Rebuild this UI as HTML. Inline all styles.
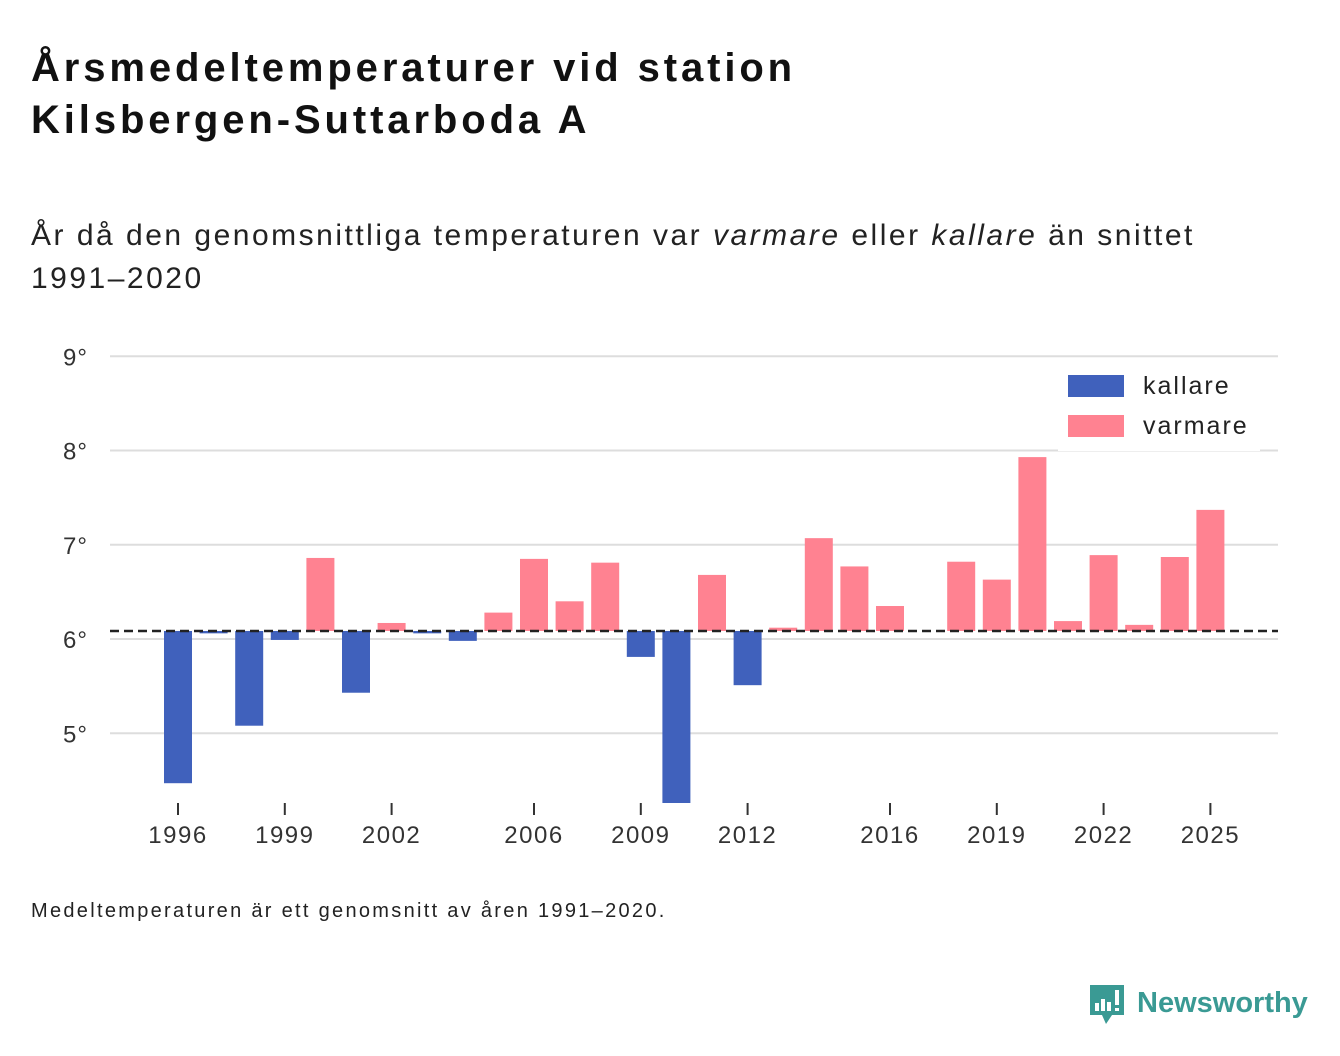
<!DOCTYPE html>
<html><head><meta charset="utf-8">
<style>
body{margin:0;background:#fff;width:1340px;height:1056px;overflow:hidden;font-family:"Liberation Sans",sans-serif;color:#111}
.title{position:absolute;left:31px;top:42px;font-size:40px;font-weight:bold;line-height:52px;letter-spacing:3.9px}
.sub{position:absolute;left:31px;top:214px;font-size:30px;line-height:43px;color:#222;letter-spacing:2.5px}
.foot{position:absolute;left:31px;top:900px;font-size:20px;color:#222;letter-spacing:2.3px}
svg{position:absolute;left:0;top:0}
</style></head><body>
<div class="title">Årsmedeltemperaturer vid station<br>Kilsbergen-Suttarboda A</div>
<div class="sub">År då den genomsnittliga temperaturen var <i>varmare</i> eller <i>kallare</i> än snittet<br>1991–2020</div>
<div class="foot">Medeltemperaturen är ett genomsnitt av åren 1991–2020.</div>
<svg id="chart" width="1340" height="1056"></svg>
<script>
const years=[1996,1997,1998,1999,2000,2001,2002,2003,2004,2005,2006,2007,2008,2009,2010,2011,2012,2013,2014,2015,2016,2017,2018,2019,2020,2021,2022,2023,2024,2025];
const temps=[4.47,6.06,5.08,5.99,6.86,5.43,6.17,6.06,5.98,6.28,6.85,6.40,6.81,5.81,4.26,6.68,5.51,6.12,7.07,6.77,6.35,null,6.82,6.63,7.93,6.19,6.89,6.15,6.87,7.37];
const mean=6.085;
const yTicks=[5,6,7,8,9];
const xTicks=[1996,1999,2002,2006,2009,2012,2016,2019,2022,2025];
const NS="http://www.w3.org/2000/svg";
const svg=document.getElementById('chart');
const y=v=>639-(v-6)*94.25;
const x=yr=>178+(yr-1996)*35.6;
function mk(t,a){const e=document.createElementNS(NS,t);for(const k in a)e.setAttribute(k,a[k]);svg.appendChild(e);return e;}
yTicks.forEach(v=>{
  const l=mk('line',{x1:110,x2:1278,y1:y(v),y2:y(v),stroke:'#ddd','stroke-width':2});
  
  
  const t=mk('text',{x:88,y:y(v)+9,'text-anchor':'end','font-size':24,fill:'#333','font-family':'Liberation Sans','letter-spacing':1});
  t.textContent=v+'°';
  
  
});
years.forEach((yr,i)=>{
  const v=temps[i]; if(v==null)return;
  const top=Math.min(y(v),y(mean)),h=Math.abs(y(v)-y(mean));
  const r=mk('rect',{x:x(yr)-14,y:top,width:28,height:Math.max(h,1.5),fill:v<mean?'#4061bc':'#ff8291'});
  
  
});
const ml=mk('line',{x1:110,x2:1278,y1:y(mean),y2:y(mean),stroke:'#222','stroke-width':2.5,'stroke-dasharray':'9,5'});


xTicks.forEach(yr=>{
  const l=mk('line',{x1:x(yr),x2:x(yr),y1:803,y2:815,stroke:'#333','stroke-width':2});
  
  
  const t=mk('text',{x:x(yr),y:843,'text-anchor':'middle','font-size':24,fill:'#333','font-family':'Liberation Sans','letter-spacing':1.5});
  t.textContent=yr;
  
  
});
const lb=mk('rect',{x:1058,y:365,width:202,height:86,fill:'#fff'});


[['kallare','#4061bc',375],['varmare','#ff8291',415]].forEach(([n,c,yy])=>{
  const s=mk('rect',{x:1068,y:yy,width:56,height:22,fill:c});
  
  
  const t=mk('text',{x:1143,y:yy+19,'font-size':25,fill:'#222','font-family':'Liberation Sans','letter-spacing':2});
  t.textContent=n;
  
  
});
const g=mk('g',{});


g.innerHTML='<path d="M1090 985h34v30h-12l-6 9-4-9h-12z" fill="#3a9a94"/><rect x="1095" y="1003" width="4" height="8" fill="#fff"/><rect x="1101" y="999" width="4" height="12" fill="#fff"/><rect x="1107" y="1002" width="4" height="9" fill="#fff"/><rect x="1115" y="990" width="4" height="15" fill="#fff"/><rect x="1115" y="1008" width="4" height="3" fill="#fff"/><text x="1137" y="1012" font-size="29" font-weight="bold" fill="#3a9a94" font-family="Liberation Sans">Newsworthy</text>';
</script>
</body></html>
